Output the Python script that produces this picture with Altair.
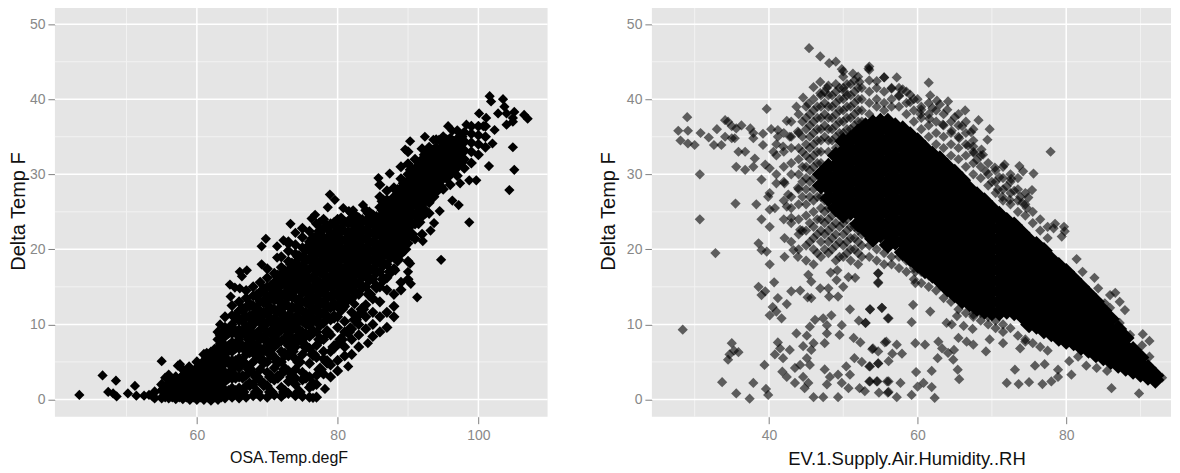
import altair as alt
import pandas as pd

# ---- shared scales / ticks
y_domain = [-2.3, 52.5]
y_ticks = [0, 10, 20, 30, 40, 50]
y_minor = [5, 15, 25, 35, 45]

# ---- left panel
left_domain = [39.83, 109.83]
left_ticks = [60, 80, 100]
left_minor = [50, 70, 90]

# isolated points read one by one
left_pts_x = [43.3, 46.6, 47.4, 48.1, 48.5, 48.6, 50.2, 51.2, 51.4, 52.5, 53.2, 53.7, 55, 55.5, 56, 57.3, 57.6, 58.9,
              61.4, 63.3, 64.7, 66.1, 67.1, 66.1, 69.2, 69.2, 69.8, 71.4, 71.4, 72.3, 73, 73.3, 74, 66.4, 64.8, 65.4,
              76.3, 76.8, 77.4, 78.9, 79.6, 78.6, 80.8, 81.6, 82.2, 83.6, 85.8, 87.4, 90.3, 89.6, 92.4, 93.6, 94.4, 95.7,
              96.3, 98.3, 97.3, 100.1, 101.6, 101.8, 103.5, 103.7, 104.9, 105.1, 104, 102.8, 106.5, 107, 104.9, 104,
              102.3, 100.7, 101.1, 102, 104.9, 105.1, 104.4, 101.5, 99.7, 98.7, 97.4, 98.7, 96.3, 97.2, 94.5, 93.7,
              93.2, 92.1, 94.7, 90.3, 89.4, 88.2, 90.4, 91.3, 90, 83.1, 85, 82.4, 78.2, 81.5, 84.3, 81.8, 76.5, 74.1]
left_pts_y = [0.6, 3.2, 1, 0.8, 2.5, 0.4, 0.8, 1.8, 0.5, 0.5, 0.6, 0.4, 5.1, 2.9, 3.3, 4.5, 4.7, 4.4,
              6.2, 10, 15.3, 17, 17.2, 14.8, 18, 20.4, 21.4, 18.9, 20.4, 21.2, 20.7, 23.4, 22.2, 16.4, 13.7, 14.9,
              24.1, 24.6, 23.6, 27.3, 26.6, 25.6, 25.5, 25.1, 25.2, 25.9, 29.5, 30.1, 34.4, 33.3, 35, 34.6, 34.6, 36.4,
              35.8, 36.6, 35, 38.1, 40.4, 39.7, 40, 39, 37.5, 38.3, 38.1, 38.1, 37.9, 37.4, 37, 36.6,
              35.9, 36.4, 37.5, 34.1, 33.6, 30.6, 27.9, 31.1, 29.2, 29.2, 28.8, 23.6, 26.5, 25.9, 25.1, 23.5,
              22.5, 21.1, 18.6, 18.1, 20.2, 17.2, 15.4, 13.6, 17, 11.4, 13.5, 12.7, 1.4, 4.4, 7.5, 9.6, 0.2, 2.8]

# columns of the solid band: one temperature, the readings piled up at it
left_col_x = [54, 55, 56, 57, 58, 59, 60, 61, 62, 63, 64, 65, 66, 67, 68, 69, 70, 71, 72, 73, 74, 75, 76, 77, 78,
              79, 80, 81, 82, 83, 84, 85, 86, 87, 88, 89, 90, 91, 92, 93, 94, 95, 96, 97, 98, 99, 100, 101]
left_col_y = [
    [.2, 1], [.2, 1.2, 2], [.2, .9, 1.8, 2.7], [.1, 1, 2, 3], [.1, 1, 2, 3.2, 4], [0, 1, 2, 3, 4],
    [0, 1, 1.9, 3, 4.2, 5], [0, 1, 2, 3, 4, 5, 6], [-.1, .9, 2, 3, 4.3, 5.5, 6.3],
    [0, 1, 2, 3.2, 4.4, 5.6, 6.8, 8, 9],
    [.2, 1.2, 2.4, 3.6, 4.8, 6, 7.2, 8.4, 9.6, 11],
    [.3, 1.5, 2.8, 4, 5.2, 6.4, 7.6, 8.8, 10, 11.2, 12.5],
    [.2, 1.5, 3, 4.2, 5.5, 6.8, 8, 9.3, 10.5, 11.8, 13],
    [.3, 1.8, 3.2, 4.6, 6, 7.2, 8.5, 9.8, 11, 12.2, 13.5, 14.5],
    [.5, 2, 3.5, 5, 6.2, 7.5, 8.8, 10, 11.3, 12.5, 13.8, 15],
    [.4, 2.5, 4, 5.5, 6.8, 8, 9.3, 10.6, 11.8, 13, 14.3, 15.6],
    [.3, 1.8, 3.6, 5, 6.6, 7.8, 9, 10.2, 11.4, 12.6, 13.8, 15, 16.2, 17.4],
    [.6, 2.6, 4.2, 5.6, 7, 8.4, 9.6, 10.8, 12, 13.2, 14.4, 15.6, 16.8],
    [.4, 1.6, 3.4, 5, 6.4, 7.8, 9.2, 10.4, 11.6, 12.8, 14, 15.2, 16.4, 17.6, 19],
    [.8, 2.4, 3.8, 5.8, 7.2, 8.6, 10, 11.2, 12.4, 13.6, 14.8, 16, 17.2, 18.4, 19.8, 21],
    [.5, 2, 4, 5.4, 7, 8.2, 9.8, 11, 12.2, 13.4, 14.6, 15.8, 17, 18.2, 19.4, 20.6],
    [.4, 2.6, 3.6, 6, 7.6, 9, 10.4, 11.8, 13, 14.2, 15.4, 16.6, 17.8, 19, 20.2, 21.6, 22.8],
    [.3, 1.6, 3, 4.8, 6.8, 8.4, 9.8, 11.2, 12.6, 13.8, 15, 16.2, 17.4, 18.6, 19.8, 21, 22.4],
    [.3, 2, 3.2, 5.6, 7.2, 9, 10.6, 12, 13.4, 14.6, 15.8, 17, 18.2, 19.4, 20.6, 21.8, 23.4],
    [3.4, 5.4, 6.4, 8, 10.2, 11.6, 13, 14.4, 15.6, 16.8, 18, 19.2, 20.4, 21.6, 22.8, 24],
    [3, 4.6, 6.4, 8.6, 10.6, 12.2, 13.6, 15, 16.2, 17.4, 18.6, 19.8, 21, 22.2, 23.4],
    [3.8, 5.2, 7.4, 9.6, 11, 12.6, 14.2, 15.6, 16.8, 18, 19.2, 20.4, 21.6, 22.8, 24],
    [5.8, 7, 9, 10.4, 12.4, 13.8, 15.2, 16.4, 17.6, 18.8, 20, 21.2, 22.4, 23.6],
    [6, 8, 9.4, 11.6, 13.4, 15, 16.2, 17.6, 18.8, 20, 21.2, 22.4, 23.6, 24.8],
    [7, 8.6, 10, 11.2, 14, 15.4, 17, 18.2, 19.4, 20.6, 21.8, 23, 24.2],
    [9.4, 11, 12.6, 15, 16.6, 17.8, 19, 20.2, 21.4, 22.6, 23.8, 25.2],
    [8.4, 10, 11.6, 13.4, 16, 17.4, 18.6, 19.8, 21, 22.2, 23.4, 24.6],
    [9, 11, 13, 15, 17, 18.4, 19.6, 20.8, 22, 23.2, 24.4, 25.6, 27, 28.6],
    [9.6, 11.6, 14.6, 16.2, 18, 19.4, 20.6, 21.8, 23, 24.2, 25.4, 26.6, 27.8],
    [11, 12.4, 14, 17.4, 19.6, 21, 22.2, 23.4, 24.6, 25.8, 27, 28.2],
    [14.6, 15.6, 19.4, 20.6, 22, 23.4, 24.6, 25.8, 27, 28.2, 29.4, 31],
    [16, 18.4, 20.8, 22.4, 23.8, 25, 26.2, 27.4, 28.6, 30, 31.4, 33],
    [21.4, 23.4, 24.6, 26, 27.2, 28.4, 29.6, 30.8, 32],
    [22, 24.4, 26, 27.2, 28.4, 29.6, 30.8, 32, 33.4],
    [24.8, 26.2, 27.6, 28.8, 30, 31.2, 32.4, 33.6],
    [27.6, 28.8, 30, 31.2, 32.4, 33.6, 34.6],
    [28, 29.4, 30.6, 31.8, 33, 34.2, 35],
    [28.6, 30, 31.2, 32.4, 33.6, 34.8],
    [29.8, 31, 32.2, 33.4, 34.6, 35.8],
    [30.8, 32, 33.2, 34.4, 35.6],
    [31.5, 33, 34.2, 35.4, 36.4],
    [32.6, 34, 35.2, 36.4],
    [33.6, 35, 36.4],
]

# more readings between those columns, filling the band
left_fill_x = [55.5, 56.5, 57.5, 58.5, 59.5, 60.5, 61.5, 62.5, 63.5, 64.5, 65.5, 66.5, 67.5, 68.5, 69.5, 70.5, 71.5,
               72.5, 73.5, 74.5, 75.5, 76.5, 77.5, 78.5, 79.5, 80.5, 81.5, 82.5, 83.5, 84.5, 85.5, 86.5, 87.5, 88.5,
               89.5, 90.5, 91.5, 92.5, 93.5, 94.5, 95.5, 96.5, 97.5]
left_fill_y = [
    [.5, 1.5], [.5, 1.4, 2.3], [.5, 1.5, 2.5], [.5, 1.5, 2.5, 3.5], [.5, 1.5, 2.5, 3.5],
    [.5, 1.5, 2.5, 3.5, 4.5], [.5, 1.5, 2.5, 3.5, 4.5, 5.5], [.5, 1.5, 2.5, 3.5, 5, 6.5],
    [.5, 1.5, 2.5, 3.8, 5, 6.2, 7.4, 8.6],
    [1, 3, 5, 7, 9], [1, 3, 5, 7, 9, 11], [1, 3, 5, 7, 9, 10.6, 12],
    [2, 4, 6.4, 8, 9.6, 11, 12.6],
    [1, 3, 6, 7, 8.6, 10.6, 12, 13.8],
    [2, 5, 6.6, 8.2, 10, 11.4, 13, 14.6],
    [1, 3, 6, 7.4, 9, 10.6, 12, 13.6, 15],
    [3, 5, 7.6, 9, 10.2, 11.8, 13.4, 15, 16.4],
    [1, 4, 6, 8, 9.6, 11, 12.6, 14, 15.6, 17],
    [3, 6.4, 8, 9.4, 10.8, 12.2, 13.8, 15.2, 16.6, 18],
    [1, 5, 8, 9.2, 10.6, 12, 13.2, 14.8, 16.2, 17.6, 19],
    [3, 7, 8.6, 10.2, 11.4, 13, 14.4, 15.8, 17.2, 18.6, 20],
    [2, 6, 9, 10.6, 12, 13.4, 14.8, 16.2, 17.6, 19, 20.2, 21.4],
    [4, 8, 10, 11.4, 12.8, 14.2, 15.4, 17, 18.2, 19.6, 21, 22.4],
    [5, 9, 11, 12.4, 13.8, 15, 16.2, 17.6, 19, 20.2, 21.4, 23],
    [7, 11, 12.6, 14, 15.4, 16.6, 18, 19.2, 20.6, 22, 23.4],
    [8, 12, 13.4, 14.8, 16.2, 17.4, 18.8, 20, 21.2, 22.6, 24],
    [9, 13.4, 14.6, 16, 17.2, 18.4, 19.6, 21, 22.2, 23.6],
    [10.6, 14.2, 15.6, 17, 18, 19.4, 20.8, 22, 23.2, 24.4],
    [12, 15, 16.4, 17.6, 18.8, 20, 21.4, 22.6, 23.8],
    [14, 16, 17.2, 18.6, 19.8, 21, 22.2, 23.6, 24.8],
    [15, 17, 18.2, 19.4, 20.6, 22, 23, 24.2],
    [16, 18, 19.2, 20.4, 21.6, 22.8, 24, 25.2, 26.4],
    [17, 19, 20.2, 21.4, 22.6, 23.8, 25, 26.2],
    [18.6, 20.4, 21.6, 23, 24.2, 25.4, 26.6, 27.8],
    [20, 21.4, 22.8, 24, 25.2, 26.4, 27.6, 28.8],
    [22, 23.4, 24.6, 25.8, 27, 28.2, 29.4, 30.6],
    [23.6, 25, 26.2, 27.4, 28.6, 29.8, 31],
    [25, 26.6, 27.8, 29, 30.2, 31.4, 32.6],
    [27, 28.2, 29.4, 30.6, 31.8, 33],
    [28.4, 29.6, 30.8, 32, 33.2],
    [29.6, 30.8, 32, 33.2, 34.4],
    [30.6, 31.8, 33, 34.2],
    [31.6, 32.8, 34, 35],
]

# ---- right panel
right_domain = [24.25, 94.1]
right_ticks = [40, 60, 80]
right_minor = [30, 50, 70, 90]

# isolated and loosely packed points read one by one
right_pts_x = [45.4, 46.9, 48.1, 49, 49.8, 50, 51.3, 53.5, 53.5, 55.5, 52.2, 54.5, 46.9, 46, 47.8, 50.2, 44.6, 45.3, 43.7, 46.9,
               39.7, 42.4, 29, 27.8, 29.1, 28.1, 29.1, 30, 30.8, 33, 31.9, 32.6, 33.6, 30.7, 30.7, 32.8, 28.4, 35.5, 38.3, 39,
               40.1, 34.1, 34.5, 34.1, 35, 35.4, 35, 35.6, 36.3, 37.5, 37.9, 37.9, 39.2, 40.3, 41.2, 41.2, 42.8, 43.9, 35.9, 36.8,
               35.6, 36.8, 37.9, 38.1, 39.2, 39.5, 40.1, 40.6, 41.9, 39, 40.1, 39.9, 40.1, 40.8, 41, 42.1, 42.6, 43.9, 42.4, 43,
               44.2, 42.1, 43.3, 42.1, 43.9, 38.6, 39, 39.7, 40.1, 40.7, 38.6, 39.5, 39, 43, 44.2, 41.2, 42.4, 40.5, 41, 40.1,
               41.7, 43.7, 45.1, 45.5, 46.2, 47.3, 48.4, 47.8, 47.8, 49.5, 49.8, 47.5, 46, 44.6, 45.7, 42.8, 41.2, 41.5, 40.8, 41.9,
               39.4, 35, 35.3, 35.9, 34.7, 34.5, 33.7, 35.6, 37.4, 37.9, 39.6, 39.9, 41.8, 42.4, 43.5, 44.2, 44.6, 43.5, 45.1, 45.5,
               45.3, 44.8, 46, 47.3, 47.8, 47.5, 48.2, 49.3, 49.3, 49.8, 50.7, 50.4, 50.9, 51.5, 52.5, 53.5, 54.7, 53.5, 54.5, 52.2,
               52.9, 54.8, 55.9, 56, 51.4, 52.3, 53.9, 54.7, 55.6, 52.1, 53, 53.6, 55.2, 56, 50.9, 45.3, 45.7, 46.9, 48, 48.1,
               45.7, 45.2, 49.3, 49.1, 48.3, 49.2, 50, 50.7, 51.6, 54.7, 54.7, 77.9, 75.6, 73.7, 74.2, 71.7, 70.4, 69.7, 69.4, 68.6,
               68.2, 66.4, 64.1, 61.5, 57.2, 55.5, 53.4, 61.7, 62.6, 67.5, 68, 75.4, 74.7, 73.8, 74.9, 74.1, 78.5, 78.3, 79.7, 79.8,
               79.4, 81.4, 82.2, 83.8, 84.3, 86.6, 85.9, 87.2, 87.9, 85.2, 85.9, 87.2, 88.6, 90.3, 91.2, 90.2, 91.2, 92.9, 86.1, 89.8,
               74.5, 73.8, 71.5, 69.7, 69.2, 73.1, 75.8, 77.1, 78.9, 80.7, 78.9, 78, 76.8, 75, 73.6, 72, 80.4, 81.6, 82.7, 84.1,
               85.5, 67.5, 66.6, 65.5, 62.8, 63.3, 64.1, 64.9, 62.7, 64.8, 61, 59.7, 57.9, 56.6, 56.1, 54.7, 53.6, 57.2, 55.8, 54,
               61.9, 59.8, 65.4, 65.6, 60.8, 60, 61.9, 62.3, 59.2, 57.2, 56.1, 57.7, 56.1, 54.6, 53.6, 59.2, 59.4, 56.1, 55.2, 53.6,
               61.7, 63.9, 64.6, 65.3, 66.2, 67.4, 67.5, 53, 59.7, 59.7, 54.7, 54.7, 72.6, 71, 72, 70, 73, 72.4, 71.4, 69.2,
               67.2, 66, 65, 64, 63, 62, 60, 59, 58, 56.5, 57.5, 59, 60.5, 66.8, 65.6, 64.6, 63.4, 61.6, 60.4, 68.8, 67.6, 70.8]
right_pts_y = [46.8, 45.7, 44.8, 45, 44, 43.7, 43.4, 44.35, 43.9, 42.9, 42.3, 42.4, 42.3, 41.6, 41.5, 41, 40.2, 39.4, 39, 40.8,
               38.7, 37.1, 37.6, 35.8, 35.8, 34.5, 34.1, 33.9, 35.5, 36, 34.9, 33.9, 33.9, 30, 24, 19.5, 9.3, 26.1, 26, 24,
               23, 37.2, 37, 35, 34.8, 34.8, 36.4, 36.1, 36.5, 36.1, 35.5, 34.8, 35.4, 36, 35.9, 35, 35, 35.7, 33, 33,
               31, 30.6, 31, 32.1, 33.9, 31.3, 30.8, 33, 33.7, 29.3, 27.5, 27, 25.3, 25.5, 28.8, 28.8, 27.3, 28.2, 25.7, 24.2,
               22.6, 21.5, 19.9, 19, 19, 20.8, 19.9, 19.7, 18, 15.6, 15, 14.4, 13.9, 14.4, 14.5, 13.5, 12.7, 12.3, 11.7, 11.2,
               10.8, 8.8, 8.5, 9.7, 10.6, 10.8, 11.2, 9.9, 8.8, 8.6, 9.9, 7.5, 7.5, 7.1, 6.6, 6.6, 7.6, 6.8, 6, 5.5,
               4.6, 7.5, 6.5, 6.3, 6, 5.3, 2.3, .8, .1, 2.2, 1.4, .6, 3.7, 3, 4.2, 4.6, 3, 2.2, 5.5, 4.6,
               2.2, 1.5, .3, .3, 2, 4, 3, 3.3, .3, 2.2, 1.5, 4.4, 3.3, 5.5, 5, 4.4, 4.8, 2.4, 2.4, 1.5,
               1.1, .9, 2.4, .9, 8.2, 7.6, 6.7, 6.4, 7.6, 10.5, 10.2, 12, 12.2, 10.8, 12, 16.6, 15.7, 14.8, 14.8, 13.7,
               13.5, 13.6, 13.7, 15.9, 16.9, 17.2, 15, 16.3, 16.2, 16.8, 15.6, 33, 30.1, 31.1, 30.4, 31.3, 30.9, 36, 34.6, 33.3,
               37.2, 38.5, 39.7, 42.2, 42.9, 42.9, 44.1, 40.5, 39.8, 33.7, 31.9, 27.9, 25.5, 27, 26.9, 26.2, 23.4, 22.8, 23, 22.4,
               21.7, 18.7, 17, 16.2, 14.8, 14.2, 13.9, 13, 11.9, 12.8, 12.2, 10.2, 8.6, 8.7, 7.8, 7.2, 5.7, 2.9, 1.5, .8,
               7.7, 6.8, 7.5, 8, 6.4, 3.96, 4.5, 4.7, 3.96, 3.3, 3, 2.4, 2.05, 2.3, 2.05, 2.2, 5.1, 5.7, 4.5, 4.2,
               3.8, 7.3, 7.7, 8.2, 7.7, 6.8, 6.2, 6.6, 5.5, 5.3, 7.3, 7.5, 6.1, 6.1, 5.1, 4.8, 4.4, 7.3, 7.7, 6.8,
               3.8, 3.65, 3.96, 2.7, 2.2, 1.7, 1.65, .2, .6, .3, 1, 2.2, 2.4, 2.4, 2.4, 10.3, 12.6, 10.8, 12.2, 12,
               11.7, 10.2, 10, 11.1, 9.8, 9.4, 11.3, 10.2, 15.5, 17, 16.8, 15.5, 29.4, 29.6, 28.4, 29, 27.8, 26.6, 27, 30.4,
               35.6, 36.4, 37.6, 38.6, 39.3, 38.8, 40, 40.6, 41.3, 41.4, 40.4, 39.6, 38.6, 33.8, 34.8, 35.8, 36.6, 37.4, 38, 32.6, 32.8, 28]

# loosely filled flank of the cloud: humidity column, readings at it
right_mid_x = [41, 42, 43, 44, 45, 46, 47, 48, 49, 50, 51, 52]
right_mid_y = [
    [30, 32.5, 34],
    [24, 26.5, 29, 31, 33, 35.5],
    [21, 23.5, 25.5, 27, 30, 31.5, 33.5, 35, 37],
    [20, 22, 24, 26, 28, 30, 32, 33.5, 35.5, 38],
    [18.5, 20.5, 22.5, 24.5, 26, 28, 29.5, 31, 32.5, 34, 36, 37.5, 39],
    [18, 20, 21.5, 23, 25, 26.5, 28, 29.5, 31, 32.5, 34, 35.5, 37, 38.5, 40],
    [19, 21, 22.5, 24, 25.5, 27, 28.5, 30, 31.5, 33, 34.5, 36, 37.5, 39, 40.5],
    [19.5, 21, 22.5, 24, 25.5, 27, 28.5, 30, 31, 33, 34.5, 36, 37.5, 39, 40.5, 41.8],
    [18.5, 20.5, 22, 23.5, 25, 33.5, 35, 36.5, 38, 39.5, 41, 42],
    [19, 20.5, 22, 23.5, 35.5, 37, 38.5, 40, 41.5, 43],
    [18.5, 20, 21.5, 23, 36, 37.5, 39, 40.5, 42],
    [18, 19.5, 21, 22.5, 37, 38.5, 40, 41.5, 43],
]

# rim of the cloud, above and below the solid part
right_rim_x = [44.5, 45.5, 46.5, 47.5, 48.5, 49.5, 50.5, 51.5, 52.5, 53.5, 54.5, 55.5, 56.5, 57.5, 58.5, 59.5, 60.5,
               61.5, 62.5, 63.5, 64.5, 65.5, 66.5, 67.5, 68.5, 69.5, 70.5, 71.5, 72.5, 73.5, 74.5, 75.5, 76.5, 77.5]
right_rim_y = [
    [22.5, 27, 29, 31, 33, 35, 37],
    [21, 23.5, 27, 29, 30.5, 32, 33.5, 35, 36.5, 38],
    [19.5, 22, 24, 27, 28.5, 30, 31.5, 33, 34.5, 36, 37.5, 39],
    [20, 22, 23.5, 25, 26.5, 35, 36.5, 38, 39.5, 41],
    [20, 21.5, 23, 24.5, 34.5, 36, 37.5, 39, 40.5],
    [19, 21, 23, 24.5, 35.5, 37, 38.5, 40, 41.5],
    [19.5, 21, 22.5, 24, 36, 37.5, 39, 40.5, 42],
    [20, 21.5, 23, 36.5, 38, 39.5, 41, 42.5],
    [19, 20.5, 22, 37, 38.5, 40, 41.5],
    [19, 20.5, 21.5, 38, 39.5, 41, 42.5],
    [18.5, 20, 39, 40, 41.5],
    [18, 19.5, 20.5, 38.5, 39.5, 41],
    [18, 19, 39, 40, 41.5],
    [17.5, 19, 39, 40.5, 41.5],
    [17, 18.5, 38, 39.5, 41],
    [16, 17.5, 37, 38.5, 40],
    [15.5, 17, 36, 37.5, 39],
    [15, 16.5, 35, 36.5, 38, 39.5],
    [14.5, 16, 34, 35.5, 37, 38.5],
    [13.5, 15, 33.5, 35, 36.5, 38],
    [13, 14, 32.5, 34, 35.5, 37],
    [12, 13.5, 32, 33.5, 35, 36.5, 38],
    [11.5, 13, 31, 32.5, 34, 35.5, 37],
    [11, 12, 30, 31.5, 33, 34.5, 36],
    [10.5, 11.5, 29.5, 31, 32.5],
    [10, 11, 28.5, 30, 31.5],
    [9.5, 10.5, 27.5, 29, 30.5],
    [9, 10, 26.5, 28, 29.5, 31],
    [9.5, 26, 27.5, 29, 30],
    [8.5, 25, 26.5, 28, 29.5],
    [8, 24.5, 26, 27.5],
    [7.5, 23.5, 25],
    [7, 22.5, 24],
    [6.5, 21.5, 23],
]

# solid core of the cloud: humidity column, readings piled up at it
right_core_x = [47, 48, 49, 50, 51, 52, 53, 54, 55, 56, 57, 58, 59, 60, 61, 62, 63, 64, 65, 66, 67, 68, 69, 70,
                71, 72, 73, 74, 75, 76, 77, 78, 79, 80, 81, 82, 83, 84, 85, 86, 87, 88, 89, 90, 91, 92]
right_core_y = [
    [28.5, 30],
    [26.8, 28.2, 29.6, 31],
    [25.5, 26.9, 28.3, 29.7, 31.1, 32.5],
    [24.6, 26, 27.4, 28.8, 30.2, 31.6, 33, 34.4],
    [25, 26.3, 27.7, 29.1, 30.5, 31.9, 33.3, 34.7],
    [23.4, 24.8, 26.2, 27.6, 29, 30.4, 31.8, 33.2, 34.6, 35.6],
    [22.6, 24, 25.4, 26.8, 28.2, 29.6, 31, 32.4, 33.8, 35.2, 36.4],
    [21.4, 22.8, 24.2, 25.6, 27, 28.4, 29.8, 31.2, 32.6, 34, 35.4, 36.8],
    [22, 23.4, 24.8, 26.2, 27.6, 29, 30.4, 31.8, 33.2, 34.6, 36, 37],
    [20.6, 22, 23.4, 24.8, 26.2, 27.6, 29, 30.4, 31.8, 33.2, 34.6, 36, 37],
    [21, 22.4, 23.8, 25.2, 26.6, 28, 29.4, 30.8, 32.2, 33.6, 35, 36.4],
    [19.6, 21, 22.4, 23.8, 25.2, 26.6, 28, 29.4, 30.8, 32.2, 33.6, 35, 36],
    [18.8, 20.2, 21.6, 23, 24.4, 25.8, 27.2, 28.6, 30, 31.4, 32.8, 34.2, 35.2],
    [18, 19.4, 20.8, 22.2, 23.6, 25, 26.4, 27.8, 29.2, 30.6, 32, 33.4, 34.4],
    [17.2, 18.6, 20, 21.4, 22.8, 24.2, 25.6, 27, 28.4, 29.8, 31.2, 32.6, 33.4],
    [16.6, 18, 19.4, 20.8, 22.2, 23.6, 25, 26.4, 27.8, 29.2, 30.6, 32, 32.6],
    [15.8, 17.2, 18.6, 20, 21.4, 22.8, 24.2, 25.6, 27, 28.4, 29.8, 31.2, 32],
    [14.8, 16.2, 17.6, 19, 20.4, 21.8, 23.2, 24.6, 26, 27.4, 28.8, 30.2, 31],
    [14, 15.4, 16.8, 18.2, 19.6, 21, 22.4, 23.8, 25.2, 26.6, 28, 29.4, 30.2],
    [13.2, 14.6, 16, 17.4, 18.8, 20.2, 21.6, 23, 24.4, 25.8, 27.2, 28.6, 29.2],
    [12.8, 14.2, 15.6, 17, 18.4, 19.8, 21.2, 22.6, 24, 25.4, 26.8, 28],
    [12.2, 13.6, 15, 16.4, 17.8, 19.2, 20.6, 22, 23.4, 24.8, 26.2, 27.2],
    [11.8, 13.2, 14.6, 16, 17.4, 18.8, 20.2, 21.6, 23, 24.4, 25.8, 26.4],
    [11.6, 13, 14.4, 15.8, 17.2, 18.6, 20, 21.4, 22.8, 24.2, 25.4],
    [11.6, 13, 14.4, 15.8, 17.2, 18.6, 20, 21.4, 22.8, 24.2, 24.6],
    [11.8, 13.2, 14.6, 16, 17.4, 18.8, 20.2, 21.6, 23, 23.8],
    [11.6, 13, 14.4, 15.8, 17.2, 18.6, 20, 21.4, 22.8, 23.2],
    [11.2, 12.6, 14, 15.4, 16.8, 18.2, 19.6, 21, 22.2],
    [10, 11.4, 12.8, 14.2, 15.6, 17, 18.4, 19.8, 21.2],
    [9.8, 11.2, 12.6, 14, 15.4, 16.8, 18.2, 19.6, 20.6],
    [9.2, 10.6, 12, 13.4, 14.8, 16.2, 17.6, 19, 19.8],
    [8.8, 10.2, 11.6, 13, 14.4, 15.8, 17.2, 18.6],
    [8.2, 9.6, 11, 12.4, 13.8, 15.2, 16.6, 17.8],
    [7.8, 9.2, 10.6, 12, 13.4, 14.8, 16.2, 17],
    [7.6, 9, 10.4, 11.8, 13.2, 14.6, 16],
    [7, 8.4, 9.8, 11.2, 12.6, 14, 15],
    [6.6, 8, 9.4, 10.8, 12.2, 13.6, 14],
    [6, 7.4, 8.8, 10.2, 11.6, 13],
    [5.6, 7, 8.4, 9.8, 11.2, 11.8],
    [5.1, 6.5, 7.9, 9.3, 10.7],
    [4.6, 6, 7.4, 8.8, 9.4],
    [4.2, 5.6, 7, 8.2],
    [3.8, 5.2, 6.6],
    [3.4, 4.8, 5.6],
    [3, 4.2],
    [2.6, 3.2],
]


def flatten(col_x, col_y):
    xs, ys = [], []
    for x, col in zip(col_x, col_y):
        for y in col:
            xs.append(x)
            ys.append(y)
    return pd.DataFrame({"x": xs, "y": ys})


FONT = "Liberation Sans"
DIAMOND = 105
PANEL_H = 412


def panel(domain, ticks, minor, x_title, x_title_size, x_title_x, y_title_x, width, layers):
    xs = alt.Scale(domain=domain, nice=False, zero=False)
    ys = alt.Scale(domain=y_domain, nice=False, zero=False)
    xaxis = alt.Axis(values=ticks, grid=False, domain=False, tickColor="#7f7f7f", tickSize=7, tickWidth=1,
                     labelColor="#888888", labelFont=FONT, labelFontSize=14, labelPadding=5,
                     title=x_title, titleFont=FONT, titleFontSize=x_title_size, titleFontWeight="normal",
                     titleColor="#111111", titleX=x_title_x, titleY=33)
    yaxis = alt.Axis(values=y_ticks, grid=False, domain=False, tickColor="#7f7f7f", tickSize=7, tickWidth=1,
                     labelColor="#888888", labelFont=FONT, labelFontSize=14, labelPadding=3,
                     title="Delta Temp F", titleFont=FONT, titleFontSize=20, titleFontWeight="normal",
                     titleColor="#111111", titleX=y_title_x)
    vminor = alt.Chart(pd.DataFrame({"x": minor})).mark_rule(color="#F2F2F2", strokeWidth=1).encode(
        x=alt.X("x:Q", scale=xs, axis=xaxis))
    hminor = alt.Chart(pd.DataFrame({"y": y_minor})).mark_rule(color="#F2F2F2", strokeWidth=1).encode(
        y=alt.Y("y:Q", scale=ys, axis=yaxis))
    vmajor = alt.Chart(pd.DataFrame({"x": ticks})).mark_rule(color="#FFFFFF", strokeWidth=1.5).encode(
        x=alt.X("x:Q", scale=xs, axis=xaxis))
    hmajor = alt.Chart(pd.DataFrame({"y": y_ticks})).mark_rule(color="#FFFFFF", strokeWidth=1.5).encode(
        y=alt.Y("y:Q", scale=ys, axis=yaxis))
    marks = [
        alt.Chart(df).mark_point(shape="diamond", filled=True, color="#000000", opacity=op,
                                 size=size, strokeWidth=0, clip=True).encode(
            x=alt.X("x:Q", scale=xs, axis=xaxis), y=alt.Y("y:Q", scale=ys, axis=yaxis))
        for df, op, size in layers
    ]
    return alt.layer(vminor, hminor, vmajor, hmajor, *marks).properties(width=width, height=PANEL_H)


left = panel(left_domain, left_ticks, left_minor, "OSA.Temp.degF", 16, 234, -26.5, 493.5, [
    (flatten(left_fill_x, left_fill_y), 1, 190),
    (flatten(left_col_x, left_col_y), 1, 125),
    (pd.DataFrame({"x": left_pts_x, "y": left_pts_y}), 1, DIAMOND),
])

right = panel(right_domain, right_ticks, right_minor, "EV.1.Supply.Air.Humidity..RH", 18.5, 255, -33, 520, [
    (flatten(right_core_x, right_core_y), 1, 320),
    (flatten(right_rim_x, right_rim_y), 0.6, DIAMOND),
    (flatten(right_mid_x, right_mid_y), 0.6, DIAMOND),
    (pd.DataFrame({"x": right_pts_x, "y": right_pts_y}), 0.6, DIAMOND),
])

chart = alt.hconcat(left, right, spacing=104, bounds="flush").properties(
    padding={"left": 0, "top": -4, "right": 0, "bottom": 0}
).configure_view(fill="#E5E5E5", stroke=None)

chart.save("out.html", embed_options={"renderer": "svg", "actions": False})
